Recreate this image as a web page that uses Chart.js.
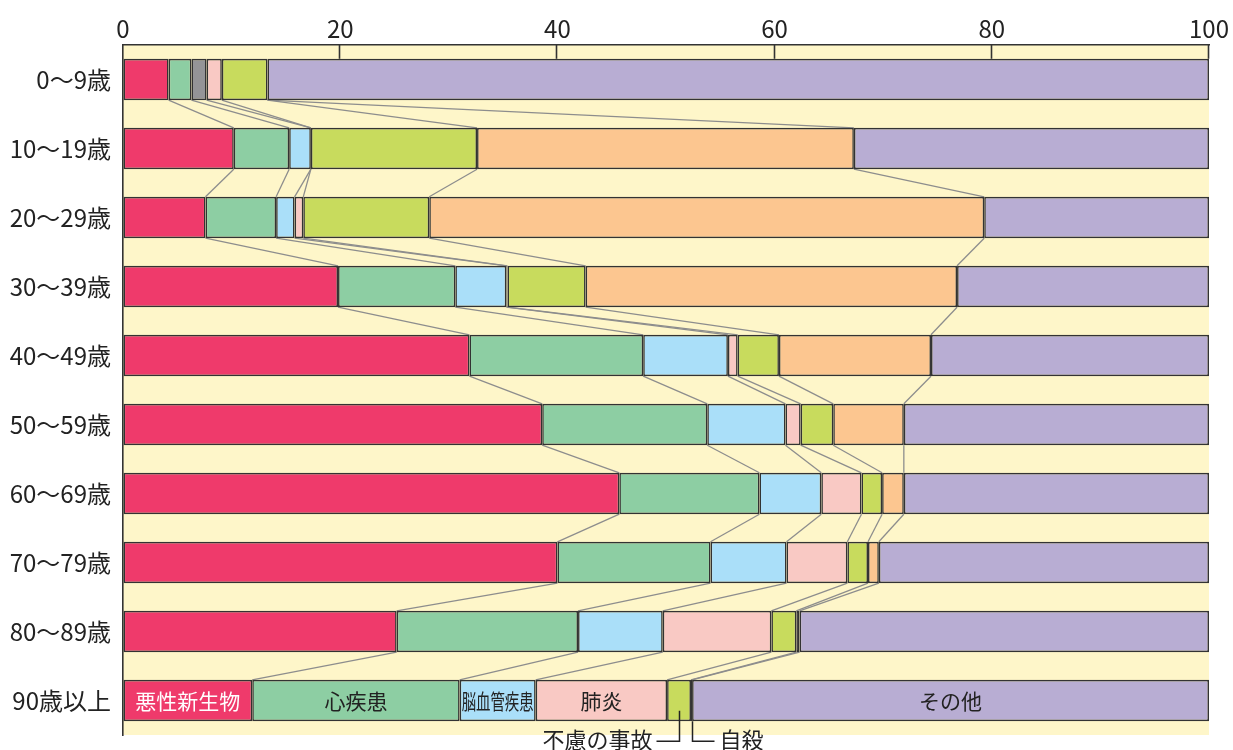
<!DOCTYPE html>
<html lang="ja">
<head>
<meta charset="utf-8">
<title>年齢階級別 死因構成割合</title>
<script src="https://cdn.jsdelivr.net/npm/chart.js@4/dist/chart.umd.min.js"></script>
<style>
  html, body { margin: 0; padding: 0; background: #ffffff; }
  #wrap { width: 1233px; height: 750px; position: relative; }
</style>
</head>
<body>
<div id="wrap"><canvas id="c" width="1233" height="750"></canvas></div>
<script>
// 年齢階級
const ageGroups = ['0〜9歳', '10〜19歳', '20〜29歳', '30〜39歳', '40〜49歳',
                   '50〜59歳', '60〜69歳', '70〜79歳', '80〜89歳', '90歳以上'];

// 死因別の構成割合（％）
const cancer     = [4.2, 10.2,  7.6, 19.8, 31.9, 38.6, 45.7, 40.0, 25.2, 11.9]; // 悪性新生物
const heart      = [2.1,  5.1,  6.5, 10.8, 16.0, 15.2, 12.9, 14.1, 16.7, 19.1]; // 心疾患
const stroke     = [1.4,  2.0,  1.7,  4.7,  7.8,  7.2,  5.7,  7.0,  7.8,  7.0]; // 脳血管疾患
const pneumonia  = [1.4,  0.0,  0.8,  0.1,  0.9,  1.4,  3.7,  5.6, 10.0, 12.1]; // 肺炎
const accident   = [4.2, 15.3, 11.6,  7.2,  3.8,  3.0,  1.9,  1.9,  2.3,  2.2]; // 不慮の事故
const suicide    = [0.0, 34.7, 51.1, 34.2, 14.0,  6.5,  2.0,  1.0,  0.3,  0.1]; // 自殺
const others     = [86.7, 32.7, 20.7, 23.2, 25.6, 28.1, 28.1, 30.4, 37.7, 47.6]; // その他

const xTicks = [0, 20, 40, 60, 80, 100];

const FONT = '"Noto Sans CJK JP", "Noto Sans", sans-serif';
const BG_YELLOW = '#fef6c9';
const EDGE = '#333333';
const LINK = '#8d8d8d';

// 0〜9歳の脳血管疾患欄はグレーで塗る
const strokeColors = ageGroups.map((_, i) => i === 0 ? '#949497' : '#aadff9');

const datasets = [
  { label: '悪性新生物', data: cancer,    backgroundColor: '#ef3a6b', inBar: { color: '#ffffff' } },
  { label: '心疾患',     data: heart,     backgroundColor: '#8dcea3', inBar: { color: '#222222' } },
  { label: '脳血管疾患', data: stroke,    backgroundColor: strokeColors, inBar: { color: '#222222', squeeze: true } },
  { label: '肺炎',       data: pneumonia, backgroundColor: '#f9c9c4', inBar: { color: '#222222' } },
  { label: '不慮の事故', data: accident,  backgroundColor: '#c8db5d', callout: 'left' },
  { label: '自殺',       data: suicide,   backgroundColor: '#fcc690', callout: 'right' },
  { label: 'その他',     data: others,    backgroundColor: '#b8add3', inBar: { color: '#222222' } }
].map(d => Object.assign(d, {
  borderColor: EDGE,
  borderWidth: 1.6,
  borderSkipped: false,
  barPercentage: 0.6,
  categoryPercentage: 1.0
}));

// 描画領域の黄色い背景と、上辺の目盛り線
const backdrop = {
  id: 'backdrop',
  beforeDraw(chart) {
    const { ctx, chartArea: a } = chart;
    ctx.save();
    ctx.fillStyle = BG_YELLOW;
    ctx.fillRect(a.left, a.top, a.right - a.left, a.bottom - a.top);
    ctx.restore();
  },
  afterDatasetsDraw(chart) {
    const { ctx, chartArea: a, scales } = chart;
    const first = chart.getDatasetMeta(0).data[0];
    const yEnd = first.y - first.height / 2;
    ctx.save();
    ctx.strokeStyle = EDGE;
    ctx.lineWidth = 1.6;
    xTicks.slice(1).forEach(v => {
      const x = Math.round(scales.x.getPixelForValue(v)) - 0.5;
      ctx.beginPath();
      ctx.moveTo(x, a.top);
      ctx.lineTo(x, yEnd);
      ctx.stroke();
    });
    ctx.restore();
  }
};

// 隣り合う年齢階級の区切り位置を結ぶ線
const links = {
  id: 'links',
  beforeDatasetsDraw(chart) {
    const { ctx } = chart;
    ctx.save();
    ctx.strokeStyle = LINK;
    ctx.lineWidth = 1.3;
    for (let d = 0; d < datasets.length - 1; d++) {
      const bars = chart.getDatasetMeta(d).data;
      for (let r = 0; r < bars.length - 1; r++) {
        const a = bars[r], b = bars[r + 1];
        ctx.beginPath();
        ctx.moveTo(a.x, a.y + a.height / 2);
        ctx.lineTo(b.x, b.y - b.height / 2);
        ctx.stroke();
      }
    }
    ctx.restore();
  }
};

// 90歳以上の帯に死因名を書き込む
const names = {
  id: 'names',
  afterDatasetsDraw(chart) {
    const { ctx } = chart;
    const last = ageGroups.length - 1;
    ctx.save();
    ctx.textBaseline = 'middle';
    datasets.forEach((ds, i) => {
      const bar = chart.getDatasetMeta(i).data[last];
      const left = bar.base, right = bar.x;
      const cx = (left + right) / 2;
      if (ds.inBar) {
        ctx.fillStyle = ds.inBar.color;
        ctx.textAlign = 'center';
        ctx.font = '21px ' + FONT;
        if (ds.inBar.squeeze) {
          ctx.fillText(ds.label, cx, bar.y + 1, right - left - 4);
        } else {
          ctx.fillText(ds.label, cx, bar.y + 1);
        }
      }
      if (ds.callout) {
        const bottom = bar.y + bar.height / 2;
        const yLine = bottom + 20;
        ctx.strokeStyle = '#222222';
        ctx.lineWidth = 1.5;
        ctx.fillStyle = '#222222';
        ctx.font = '22px ' + FONT;
        if (ds.callout === 'left') {
          const x = Math.round(cx) + 0.5;
          ctx.beginPath();
          ctx.moveTo(x, bar.y + bar.height * 0.25);
          ctx.lineTo(x, yLine);
          ctx.lineTo(x - 23, yLine);
          ctx.stroke();
          ctx.textAlign = 'right';
          ctx.fillText(ds.label, x - 27, yLine - 2);
        } else {
          const x = Math.round(right) + 0.5;
          ctx.beginPath();
          ctx.moveTo(x, bottom);
          ctx.lineTo(x, yLine);
          ctx.lineTo(x + 22, yLine);
          ctx.stroke();
          ctx.textAlign = 'left';
          ctx.fillText(ds.label, x + 27, yLine - 2);
        }
      }
    });
    ctx.restore();
  }
};

new Chart(document.getElementById('c'), {
  type: 'bar',
  data: { labels: ageGroups, datasets },
  options: {
    indexAxis: 'y',
    responsive: false,
    animation: false,
    layout: { padding: { left: 0, right: 24, top: 0, bottom: 15 } },
    plugins: { legend: { display: false }, tooltip: { enabled: false } },
    scales: {
      x: {
        type: 'linear',
        position: 'top',
        stacked: true,
        min: 0,
        max: 100,
        afterBuildTicks(scale) { scale.ticks = xTicks.map(v => ({ value: v })); },
        afterFit(scale) { scale.height = 45; scale.paddingLeft = 0; scale.paddingRight = 0; },
        grid: { display: true, drawOnChartArea: false, drawTicks: false },
        border: { display: true, color: EDGE, width: 1.6 },
        ticks: { color: '#222222', padding: 2, font: { family: FONT, size: 24 } }
      },
      y: {
        stacked: true,
        afterFit(scale) { scale.width = 123; scale.paddingTop = 0; scale.paddingBottom = 0; },
        grid: { display: true, drawOnChartArea: false, drawTicks: false },
        border: { display: true, color: EDGE, width: 1.6 },
        ticks: { color: '#222222', padding: 12, font: { family: FONT, size: 24 } }
      }
    }
  },
  plugins: [backdrop, links, names]
});
</script>
</body>
</html>
